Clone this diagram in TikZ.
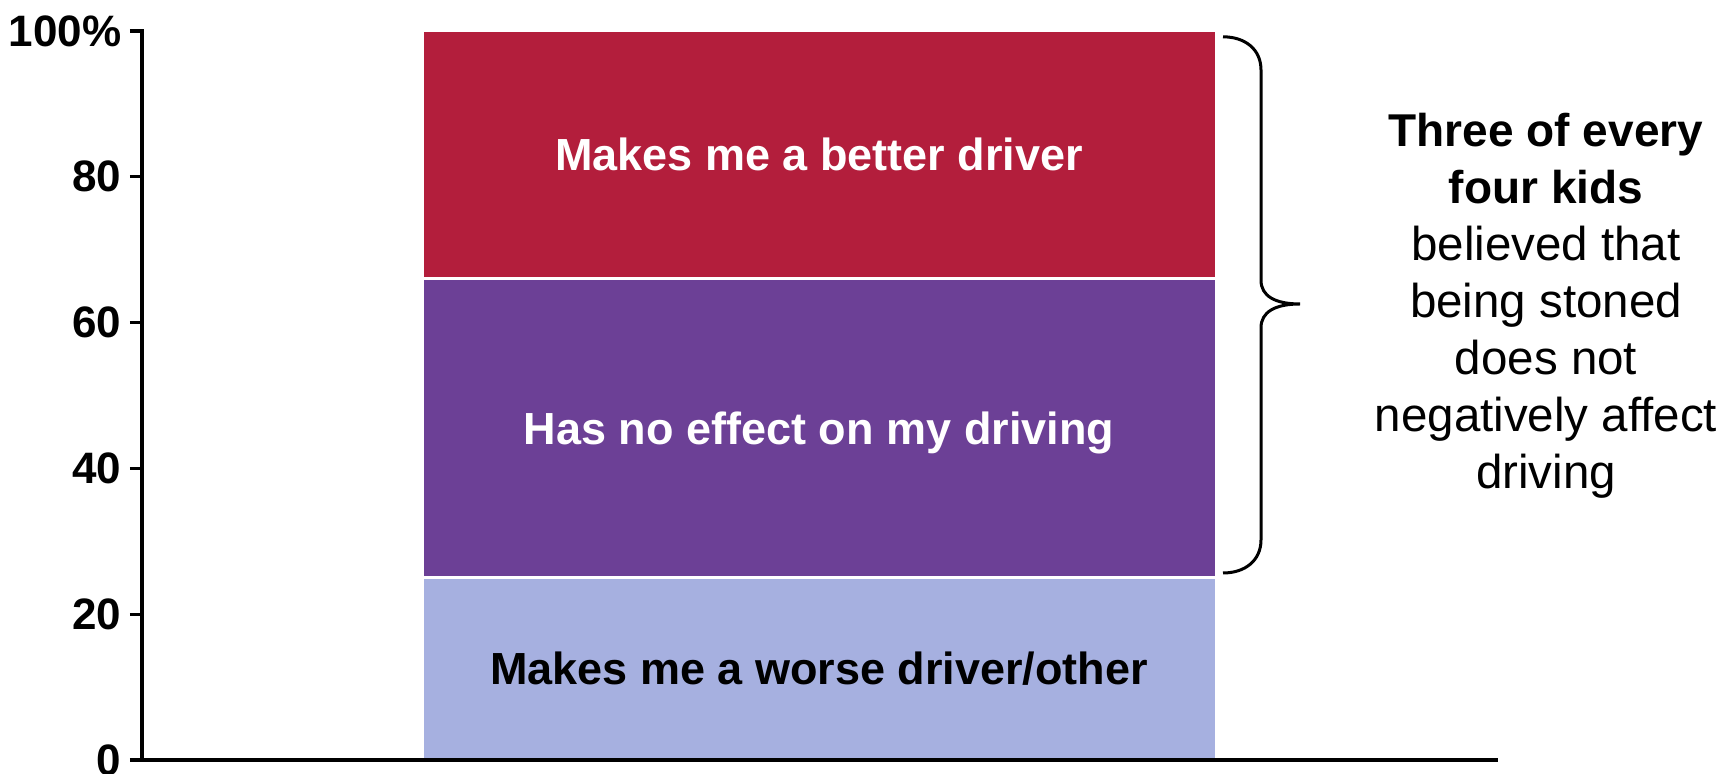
\documentclass[tikz,border=0pt]{standalone}
\usepackage{fontspec}
\setmainfont{Liberation Sans}
\usetikzlibrary{positioning}

\definecolor{betterred}{RGB}{179,30,60}
\definecolor{noeffect}{RGB}{108,64,150}
\definecolor{worseblue}{RGB}{166,176,224}

\begin{document}
\begin{tikzpicture}[x=1pt,y=7.29pt,
    segment/.style={draw=white,line width=3pt},
    barlabel/.style={font=\fontsize{45}{54}\selectfont\bfseries,text height=32pt,text depth=0pt},
    axisline/.style={line width=3.3pt},
    ticklabel/.style={font=\fontsize{44}{52}\selectfont\bfseries,anchor=east}]

  \useasboundingbox (-142,-1.92) rectangle (1586,104.25);

  % --------------------------------------------------------- %
  % ------------- stacked bar
  % --------------------------------------------------------- %
  \path[fill=worseblue,segment] (280,0) rectangle (1074,25);
  \path[fill=noeffect,segment] (280,25) rectangle (1074,66);
  \path[fill=betterred,segment] (280,66) rectangle (1074,100);

  \node[barlabel,text=white] (better) at (677,83) {Makes me a better driver};
  \node[barlabel,text=white] (none) at (677,45.5) {Has no effect on my driving};
  \node[barlabel,text=black] (worse) at (677,12.5) {Makes me a worse driver/other};

  % --------------------------------------------------------- %
  % ------------- axes
  % --------------------------------------------------------- %
  \draw[axisline] (-12,100) -- (0,100) -- (0,0);
  \draw[axisline] (-12,0) -- (1356,0);
  \foreach \v in {20,40,...,80}
    \draw[axisline] (-12,\v) -- (0,\v);

  \node[ticklabel] (tick100) at (-17,100) {100\%};
  \foreach \v in {0,20,...,80}
    \node[ticklabel] (tick\v) at (-17,\v) {\v};

  % --------------------------------------------------------- %
  % ------------- brace and comment
  % --------------------------------------------------------- %
  \draw[line width=3pt] (1081,99.2) .. controls (1103,99.2) and (1119,97.5) .. (1119,94.65)
    -- (1119,65.8) .. controls (1119,63.65) and (1133,62.55) .. (1158,62.55)
    .. controls (1133,62.55) and (1119,61.45) .. (1119,59.3)
    -- (1119,30.2) .. controls (1119,27.35) and (1103,25.65) .. (1081,25.65);

  \node[align=center,font=\fontsize{47.5}{57}\selectfont] (remark) at (1404,62.3)
    {{\fontsize{46}{57}\selectfont\bfseries Three of every}\\{\fontsize{46}{57}\selectfont\bfseries four kids}\\believed that\\being stoned\\does not\\negatively affect\\driving};

\end{tikzpicture}
\end{document}
